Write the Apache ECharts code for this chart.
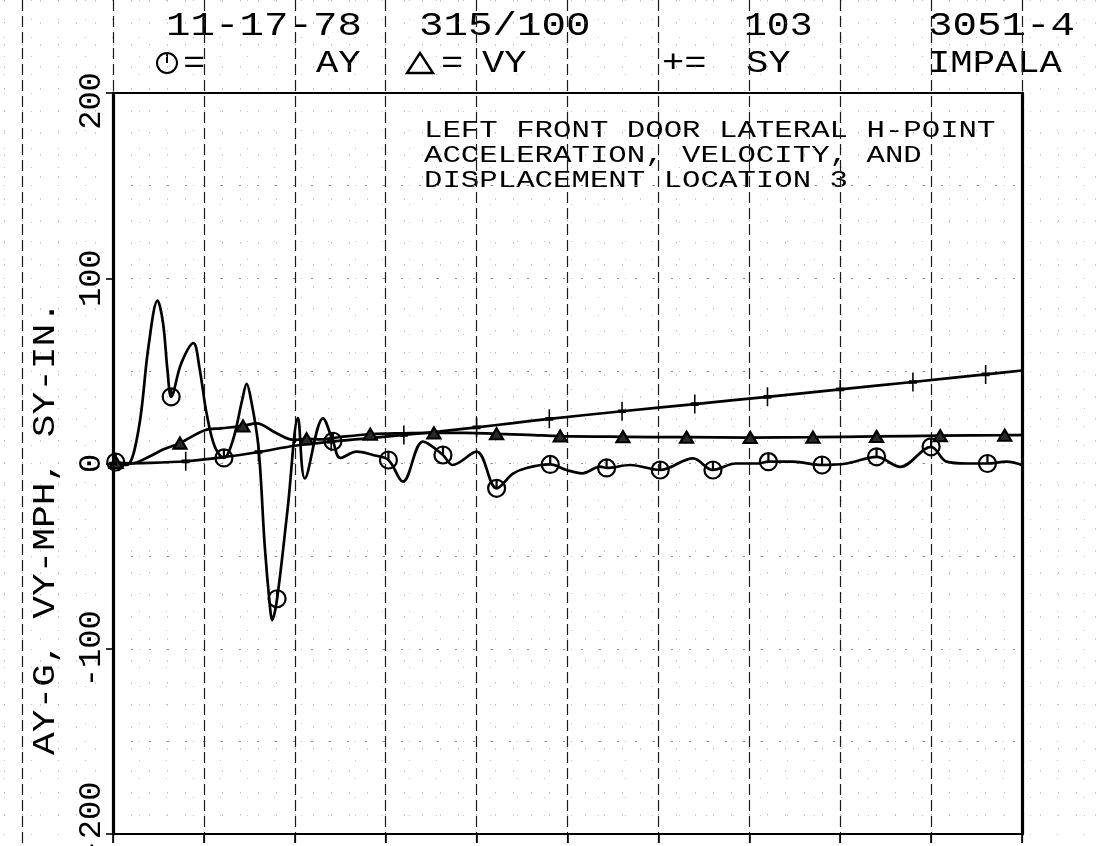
<!DOCTYPE html>
<html>
<head>
<meta charset="utf-8">
<script src="https://cdn.jsdelivr.net/npm/echarts@6/dist/echarts.min.js"></script>
<style>
  html, body { margin: 0; padding: 0; background: #fff; }
  #chart { width: 1110px; height: 846px; }
</style>
</head>
<body>
<div id="chart"></div>
<script>
// Lateral door response, test 11-17-78 (IMPALA 3051-4)
// AY: acceleration (G), VY: velocity (MPH), SY: displacement (IN.)
const ayData = [[0,0],[0.3,0.8],[1.5,-0.8],[2.8,18],[3.9,63],[4.9,88],[5.5,76],[6.0,50],[6.4,36],[7.5,54],[8.85,65],[9.5,52],[10.3,27],[11.2,9],[12.2,3],[13.2,12.7],[14.2,34],[14.7,43],[15.2,34],[16.0,9],[16.7,-45],[17.3,-79],[17.5,-84.5],[18.05,-73],[19.2,-25],[20.35,24.5],[21.1,-8],[23.1,24.4],[24.2,12],[25.0,3],[26.8,6.4],[28.6,4.6],[30.3,1.9],[31.9,-9.8],[34.1,11.8],[36.3,4.6],[37.35,-0.8],[40.0,6.4],[42.2,-13.4],[44.0,-5.5],[45.5,-2.4],[48.1,-0.5],[49.9,-3.5],[51.6,-5.3],[53.6,-1.7],[54.3,-2.4],[56.9,-0.8],[60.2,-3.5],[63.8,2.8],[66.0,-3.5],[68.5,0],[71.0,0],[72.1,1.0],[74.8,1.0],[78.0,-0.8],[80.7,0],[84.0,3.6],[86.6,-1.8],[90.0,9.0],[91.7,1.0],[93.9,0],[96.2,0],[98.3,1.0],[100,-0.8]];
const ayMarks = [0.3,6.4,12.2,18.05,24.2,30.3,36.3,42.2,48.1,54.3,60.2,66.0,72.1,78.0,84.0,90.0,96.2];

const vyData = [[0,0],[0.33,0.5],[2,0],[3.9,3.5],[5.5,7.5],[7.37,11],[10.1,18],[11.9,19],[14.3,20.3],[15.8,21.7],[18.0,16.3],[19.9,12.7],[21.3,13.3],[22.8,13],[25,14.3],[28.3,15.8],[31.8,16.3],[35.3,16.5],[38.8,16.5],[42.2,16],[45.7,15.5],[49.2,14.8],[56.1,14.4],[63.1,14.2],[70.1,14.0],[77.0,14.2],[84.0,14.6],[91.0,15.0],[98.1,15.3],[100,15.5]];
const vyMarks = [0.33,7.37,14.3,21.3,28.3,35.3,42.2,49.2,56.1,63.1,70.1,77.0,84.0,91.0,98.1];

const syData = [[0,0],[4,0.3],[8,1.2],[12,3.3],[16,6.2],[20,9.6],[24,11.8],[28,13.6],[32,15.4],[36,17.3],[40,19.5],[44,21.8],[48,24.1],[56,28.2],[64,32.1],[72,36.0],[80,40.0],[88,44.0],[96,48.1],[100,50.2]];
const syMarks = [0,8,16,24,32,40,48,56,64,72,80,88,96];

const headerRow1 = ['11-17-78', '315/100', '103', '3051-4'];
const headerRow2 = ['=', 'AY', '=', 'VY', '+=', 'SY', 'IMPALA'];
const titleLines = ['LEFT FRONT DOOR LATERAL H-POINT', 'ACCELERATION, VELOCITY, AND', 'DISPLACEMENT LOCATION 3'];
const yName = 'AY-G, VY-MPH, SY-IN.';

const INK = '#000';
const PLOT_FONT = '"Liberation Mono", "DejaVu Sans Mono", monospace';

// marker glyphs: circle with a stub, plus
const circleGlyph = 'path://M0,-10A10,10 0 1,1 0,10A10,10 0 1,1 0,-10ZM0,-10L0,0';
const plusGlyph = 'path://M0,-10L0,10M-4,0L4,0';

function withMarks(points, marks, symbol, size, fill, bw) {
  return points.map(p => {
    const isMark = marks.indexOf(p[0]) >= 0;
    return isMark
      ? { value: p, symbol: symbol, symbolSize: size,
          itemStyle: { color: fill, borderColor: INK, borderWidth: bw } }
      : { value: p, symbol: 'none' };
  });
}

function curve(name, points, marks, symbol, size, fill, bw) {
  return {
    name: name, type: 'line', xAxisIndex: 0, yAxisIndex: 0,
    smooth: 0.35, showSymbol: true, showAllSymbol: true,
    lineStyle: { color: INK, width: 2.7 },
    itemStyle: { color: fill, borderColor: INK, borderWidth: bw },
    data: withMarks(points, marks, symbol, size, fill, bw),
    z: 5, silent: true
  };
}

function label(str, x, y, size, scaleX, extra) {
  return Object.assign({
    type: 'text', x: x, y: y, scaleX: scaleX || 1, silent: true,
    style: { text: str, font: size + 'px ' + PLOT_FONT, fill: INK,
             textAlign: 'left', textVerticalAlign: 'middle' }
  }, extra || {});
}

const chart = echarts.init(document.getElementById('chart'), null, { renderer: 'canvas' });

const fixedGrid = { containLabel: false, outerBoundsMode: 'none' };

const option = {
  animation: false,
  backgroundColor: '#fff',
  grid: [
    Object.assign({ left: 113, right: 88, top: 93, bottom: 12 }, fixedGrid),   // plot
    Object.assign({ left: 3.9, right: 15.2, top: 0.4, bottom: 12 }, fixedGrid),// fine paper grid
    Object.assign({ left: 22.1, right: 88, top: 0, bottom: 0 }, fixedGrid)     // coarse paper grid
  ],
  xAxis: [
    { gridIndex: 0, type: 'value', min: 0, max: 100, interval: 10,
      axisLine: { show: true, onZero: false, lineStyle: { color: INK, width: 2.2 } },
      axisTick: { show: true, inside: false, length: 9, lineStyle: { color: INK, width: 1.6 } },
      axisLabel: { show: false }, splitLine: { show: false } },
    { gridIndex: 0, type: 'value', position: 'top', min: 0, max: 100, interval: 10,
      axisLine: { show: true, onZero: false, lineStyle: { color: INK, width: 2.2 } },
      axisTick: { show: false }, axisLabel: { show: false }, splitLine: { show: false } },
    { gridIndex: 1, type: 'value', min: -12, max: 108, interval: 2,
      axisLine: { show: false }, axisTick: { show: false }, axisLabel: { show: false },
      splitLine: { show: true, lineStyle: { color: '#9a9a9a', width: 1, type: [1, 21] } } },
    { gridIndex: 2, type: 'value', min: -10, max: 100, interval: 10,
      axisLine: { show: false }, axisTick: { show: false }, axisLabel: { show: false },
      splitLine: { show: true, lineStyle: { color: '#1a1a1a', width: 1.2, type: [11, 5] } } }
  ],
  yAxis: [
    { gridIndex: 0, type: 'value', min: -200, max: 200, interval: 100,
      axisLine: { show: true, onZero: false, lineStyle: { color: INK, width: 3.2 } },
      axisTick: { show: true, length: 7, lineStyle: { color: INK, width: 1.6 } },
      axisLabel: { show: true, rotate: 90, margin: 5, color: INK,
                   fontFamily: PLOT_FONT, fontSize: 32,
                   // end labels sit slightly inside the frame
                   formatter: v => v === -200 ? '{lo|' + v + '}' : v === 200 ? '{hi|' + v + '}' : String(v),
                   rich: {
                     lo: { fontFamily: PLOT_FONT, fontSize: 32, color: INK, padding: [0, 0, 0, 28] },
                     hi: { fontFamily: PLOT_FONT, fontSize: 32, color: INK, padding: [0, 16, 0, 0] }
                   } },
      splitLine: { show: false } },
    { gridIndex: 0, type: 'value', position: 'right', min: -200, max: 200, interval: 100,
      axisLine: { show: true, onZero: false, lineStyle: { color: INK, width: 3.2 } },
      axisTick: { show: false }, axisLabel: { show: false }, splitLine: { show: false } },
    { gridIndex: 0, type: 'value', min: -200, max: 200, interval: 50, show: true,
      axisLine: { show: false }, axisTick: { show: false }, axisLabel: { show: false },
      splitLine: { show: true, lineStyle: { color: '#8a8a8a', width: 1, type: [2, 16] } } },
    { gridIndex: 1, type: 'value', min: -200, max: 250, interval: 10,
      axisLine: { show: false }, axisTick: { show: false }, axisLabel: { show: false },
      splitLine: { show: true, lineStyle: { color: '#c2c2c2', width: 1, type: [1, 26] } } },
    { gridIndex: 2, type: 'value', min: 0, max: 10, interval: 10,
      axisLine: { show: false }, axisTick: { show: false }, axisLabel: { show: false },
      splitLine: { show: false } }
  ],
  series: [
    curve('AY', ayData, ayMarks, circleGlyph, 17, 'rgba(255,255,255,0)', 2.2),
    curve('VY', vyData, vyMarks, 'triangle', [13, 11], '#2a2a2a', 2.2),
    curve('SY', syData, syMarks, plusGlyph, [8, 19], 'rgba(255,255,255,0)', 2.4)
  ],
  graphic: [
    // header, first row
    label(headerRow1[0], 166, 26, 34, 1.2),
    label(headerRow1[1], 419, 26, 34, 1.2),
    label(headerRow1[2], 744, 26, 34, 1.12),
    label(headerRow1[3], 928, 26, 34, 1.2),
    // header, second row with marker keys
    { type: 'circle', silent: true, shape: { cx: 167, cy: 63, r: 10 },
      style: { fill: 'none', stroke: INK, lineWidth: 2 } },
    { type: 'line', silent: true, shape: { x1: 167, y1: 53, x2: 167, y2: 63 },
      style: { stroke: INK, lineWidth: 2 } },
    label(headerRow2[0], 183, 64, 31, 1.2),
    label(headerRow2[1], 316, 64, 31, 1.2),
    { type: 'polygon', silent: true, shape: { points: [[420, 53], [407, 73], [433, 73]] },
      style: { fill: '#fff', stroke: INK, lineWidth: 2.4 } },
    label(headerRow2[2], 441, 64, 31, 1.2),
    label(headerRow2[3], 482, 64, 31, 1.2),
    label(headerRow2[4], 662, 64, 31, 1.2),
    label(headerRow2[5], 746, 64, 31, 1.2),
    label(headerRow2[6], 928, 64, 31, 1.2),
    // title block inside the plot
    label(titleLines[0], 424, 131, 24, 1.28),
    label(titleLines[1], 424, 156, 24, 1.28),
    label(titleLines[2], 424, 181, 24, 1.28),
    // vertical axis name
    { type: 'text', silent: true, x: 46, y: 528, rotation: Math.PI / 2, scaleX: 1.22,
      style: { text: yName, font: '31px ' + PLOT_FONT, fill: INK,
               textAlign: 'center', textVerticalAlign: 'middle' } }
  ]
};

chart.setOption(option);
</script>
</body>
</html>
